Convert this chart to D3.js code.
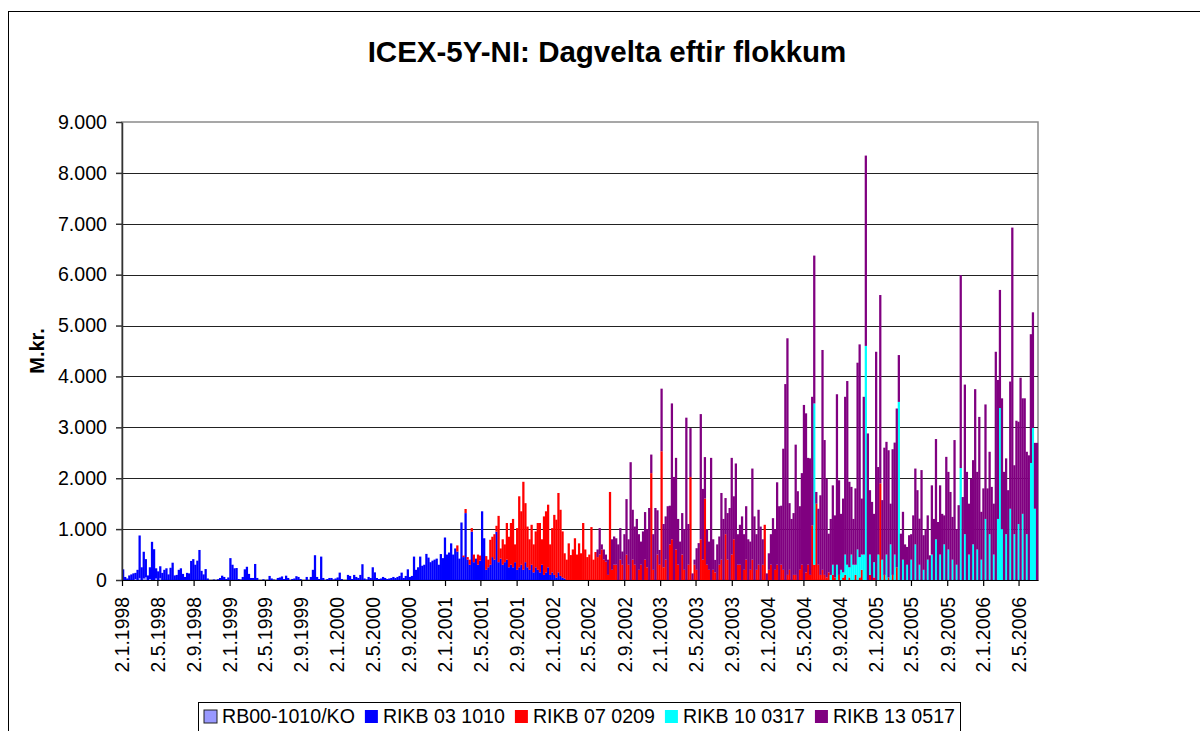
<!DOCTYPE html>
<html>
<head>
<meta charset="utf-8">
<script src="https://cdn.jsdelivr.net/npm/d3@7/dist/d3.min.js"></script>
<style>
body { margin: 0; background: #fff; }
svg text { font-family: "Liberation Sans", Arial, sans-serif; fill: #000; }
</style>
</head>
<body>
<script>
// vikuleg velta (M.kr.) lesin af myndinni, ein tala fyrir hverja viku frá 2.1.1998
var firstDay = "2.1.1998";
var weekCount = 444;

var seriesNames = ["RB00-1010/KO", "RIKB 03 1010", "RIKB 07 0209", "RIKB 10 0317", "RIKB 13 0517"];
var seriesColors = ["#9999ff", "#0000ff", "#ff0000", "#00ffff", "#800080"];

var rb00Start = 6;
var rb00 = [20, 0, 40, 0, 30, 50, 0, 20, 0, 0, 30, 0, 40];

var rikb03Start = 0;
var rikb03 = [
    210, 60, 30, 90, 110, 130, 120, 200, 835, 250,
    525, 360, 90, 230, 750, 605, 200, 170, 230, 140,
    200, 230, 110, 240, 340, 90, 100, 200, 230, 120,
    60, 140, 130, 375, 410, 300, 380, 590, 180, 110,
    215, 30, 0, 0, 10, 0, 15, 40, 85, 60,
    20, 50, 430, 300, 230, 235, 20, 10, 60, 210,
    260, 120, 40, 40, 315, 40, 0, 0, 15, 0,
    5, 80, 30, 10, 0, 40, 50, 70, 20, 85,
    40, 0, 20, 30, 75, 60, 20, 0, 0, 60,
    0, 60, 200, 487, 60, 20, 460, 40, 0, 20,
    40, 40, 10, 30, 50, 145, 20, 0, 0, 100,
    80, 20, 100, 60, 40, 100, 310, 30, 10, 60,
    40, 250, 150, 40, 20, 30, 60, 40, 20, 30,
    40, 60, 40, 60, 80, 145, 40, 80, 210, 60,
    80, 460, 200, 250, 460, 280, 300, 513, 440, 350,
    380, 400, 420, 300, 510, 430, 835, 500, 540, 720,
    500, 620, 560, 420, 1130, 450, 1315, 400, 300, 950,
    350, 420, 300, 380, 1350, 820, 200, 250, 300, 450,
    400, 950, 350, 420, 300, 350, 400, 250, 300, 250,
    350, 200, 250, 300, 200, 350, 250, 200, 300, 150,
    250, 200, 150, 300, 100, 150, 250, 100, 150, 100,
    50, 150, 80, 50, 30
];

var rikb07Start = 162;
var rikb07 = [
    120, 0, 0, 30, 80, 50, 100, 70,
    150, 0, 200, 100, 0, 0, 270, 150, 490, 400,
    500, 115, 910, 200, 500, 350, 720, 600, 820, 950,
    350, 820, 1395, 1050, 1730, 1160, 800, 600, 785, 550,
    705, 920, 970, 500, 1150, 1200, 1230, 600, 870, 1180,
    1135, 1560, 1300, 905, 495, 400, 720, 490, 600, 820,
    500, 720, 525, 1120, 600, 450, 500, 1040, 400, 550,
    450, 500, 600, 400, 360, 100, 1730, 200, 300, 300,
    0, 400, 300, 0, 500, 300, 0, 400, 300, 0,
    200, 300, 0, 400, 250, 0, 2100, 200, 0, 500,
    300, 2530, 250, 400, 0, 700, 800, 0, 600, 300,
    0, 500, 200, 0, 300, 2025, 0, 300, 200, 0,
    800, 400, 1600, 300, 200, 0, 200, 150, 0, 300,
    400, 0, 900, 400, 0, 500, 800, 0, 300, 300,
    0, 200, 400, 0, 200, 400, 0, 200, 300, 0,
    300, 1085, 0, 200, 300, 0, 200, 300, 0, 300,
    200, 0, 100, 200, 0, 100, 100, 0, 200, 300,
    0, 150, 300, 100, 1075, 300, 1500, 300, 100, 200,
    100, 50, 150, 0, 100, 50, 0, 100, 0, 50,
    100, 0, 50, 0, 0, 100, 0, 50, 200, 0,
    0, 0, 100, 0, 50, 0, 0, 1900, 0, 100,
    0, 50, 0, 100, 0, 250
];

var rikb10Start = 335;
var rikb10 = [
    3170,
    0, 0, 0, 0, 0, 0, 0, 100, 200, 0, 300, 0, 200, 100,
    400, 300, 200, 500, 300, 200, 600, 400, 300, 500,
    4600,
    0, 400, 0, 300, 0, 500, 0, 400, 0,
    500, 0, 700, 0, 500, 0, 3500, 0, 400, 0,
    300, 0, 400, 0, 700, 0, 300, 0, 200, 0,
    400, 0, 500, 0, 800, 0, 500, 0, 700, 0,
    600, 0, 400, 0, 300, 0, 2200, 0, 900, 0,
    500, 0, 700, 0, 600, 0, 400, 0, 1200, 0,
    900, 0, 500, 0, 1200, 3380, 1000, 0, 900, 0,
    1400, 0, 900, 0, 1100, 0, 1300, 0, 900, 0,
    2300, 2990, 1400, 0
];

var rikb13Start = 229;
var rikb13 = [
    0, 150, 520, 100, 200, 140, 300, 0, 600, 555,
    520, 700, 620, 260, 900, 1090, 500, 2315, 980, 750,
    1200, 700, 455, 955, 935, 750, 1415, 365, 700, 1415,
    870, 290, 1230, 850, 850, 1450, 760, 2670, 2025, 1800,
    900, 755, 815, 800, 3190, 800, 960, 130, 100, 425,
    725, 2460, 1390, 815, 700, 555, 2400, 600, 245, 700,
    555, 1310, 1200, 710, 915, 1415, 1900, 845, 2290, 600,
    785, 1250, 700, 1050, 800, 555, 1790, 1250, 700, 1080,
    1050, 500, 0, 130, 325, 600, 1215, 800, 1620, 1450,
    1160, 2380, 3850, 4650, 1310, 1200, 1215, 2560, 1745, 1250,
    1800, 3440, 3125, 2100, 2290, 2525, 2905, 230, 1100, 1565,
    4320, 2650, 1940, 760, 1100, 1560, 1220, 3350, 1860, 1100,
    1450, 3100, 3610, 1680, 1330, 900, 1500, 3670, 4180, 1100,
    3100, 3740, 2880, 1265, 1535, 950, 4485, 1720, 3700, 1170,
    2500, 2215, 2500, 800, 2470, 2200, 3120, 920, 910, 940,
    700, 350, 880, 500, 1270, 1490, 1765, 905, 2160, 680,
    1000, 870, 485, 1360, 1200, 1970, 1140, 1360, 1300, 570,
    2420, 1525, 1730, 840, 2750, 700, 1470, 3790, 1630, 2940,
    2125, 1000, 1990, 1655, 3750, 1525, 3205, 940, 1800, 2250,
    1800, 1620, 1830, 1000, 4485, 2730, 2320, 2570, 2125, 1490,
    1765, 2500, 6925, 1355, 3130, 2010, 3975, 2270, 3570, 1620,
    2450, 2530, 2270, 1295, 2695
];

var yTicks = [0, 1000, 2000, 3000, 4000, 5000, 6000, 7000, 8000, 9000];
var xTickLabels = [
    "2.1.1998", "2.5.1998", "2.9.1998", "2.1.1999", "2.5.1999", "2.9.1999",
    "2.1.2000", "2.5.2000", "2.9.2000", "2.1.2001", "2.5.2001", "2.9.2001",
    "2.1.2002", "2.5.2002", "2.9.2002", "2.1.2003", "2.5.2003", "2.9.2003",
    "2.1.2004", "2.5.2004", "2.9.2004", "2.1.2005", "2.5.2005", "2.9.2005",
    "2.1.2006", "2.5.2006"
];

d3.select(window).on('load', init);

function init() {

    var w = 1200;
    var h = 731;
    var left = 122, right = 1038, top = 122, bottom = 580;

    var parseDay = d3.timeParse("%d.%m.%Y");
    var startDate = parseDay(firstDay);
    var weekDate = function(i) { return d3.timeDay.offset(startDate, 7 * i); };

    // allar raðir settar í eina töflu fyrir d3.stack
    var starts = [rb00Start, rikb03Start, rikb07Start, rikb10Start, rikb13Start];
    var values = [rb00, rikb03, rikb07, rikb10, rikb13];
    var table = [];
    for (var i = 0; i < weekCount; i++) {
        var row = {week: i};
        seriesNames.forEach(function(name, k) {
            var v = values[k][i - starts[k]];
            row[name] = v === undefined ? 0 : v;
        });
        table.push(row);
    }
    var stacked = d3.stack().keys(seriesNames)(table);

    var svg = d3.select('body')
        .append('svg')
        .attr("width", w)
        .attr("height", h);

    // ytri rammi
    svg.append("rect")
        .attr("x", 8.5).attr("y", 11.5)
        .attr("width", 1200).attr("height", 760)
        .attr("fill", "none")
        .attr("stroke", "#000")
        .attr("stroke-width", 1);

    svg.append("text")
        .attr("x", 607)
        .attr("y", 61.5)
        .attr("text-anchor", "middle")
        .style("font-size", "29.5px")
        .style("font-weight", "bold")
        .text("ICEX-5Y-NI: Dagvelta eftir flokkum");

    var xScale = d3.scaleTime()
        .domain([startDate, weekDate(weekCount)])
        .range([left, right]);

    var yScale = d3.scaleLinear()
        .domain([0, 9000])
        .range([bottom, top]);

    var fmt = d3.formatLocale({decimal: ",", thousands: ".", grouping: [3], currency: ["", ""]}).format(",");

    // rammi teiknisvæðis
    svg.append("rect")
        .attr("x", left).attr("y", top)
        .attr("width", right - left).attr("height", bottom - top)
        .attr("fill", "#fff")
        .attr("stroke", "#8a8a8a")
        .attr("stroke-width", 1.5);

    // hnitalínur
    svg.append("g")
        .selectAll("line")
        .data(yTicks.filter(function(d){ return d > 0 && d < 9000; }))
        .enter()
        .append("line")
        .attr("x1", left).attr("x2", right)
        .attr("y1", function(d){ return Math.round(yScale(d)) + 0.5; })
        .attr("y2", function(d){ return Math.round(yScale(d)) + 0.5; })
        .attr("stroke", "#222")
        .attr("stroke-width", 1);

    // súlur
    svg.append("g")
        .selectAll("g")
        .data(stacked)
        .enter()
        .append("g")
        .attr("fill", function(d, i){ return seriesColors[i]; })
        .selectAll("rect")
        .data(function(d){ return d.filter(function(p){ return p[1] > p[0]; }); })
        .enter()
        .append("rect")
        .attr("x", function(d){ return xScale(weekDate(d.data.week)); })
        .attr("width", function(d){ return xScale(weekDate(d.data.week + 1)) - xScale(weekDate(d.data.week)) + 0.2; })
        .attr("y", function(d){ return yScale(d[1]); })
        .attr("height", function(d){ return yScale(d[0]) - yScale(d[1]); });

    var yAxis = d3.axisLeft()
        .scale(yScale)
        .tickValues(yTicks)
        .tickFormat(fmt)
        .tickSize(6)
        .tickSizeOuter(0)
        .tickPadding(9);

    var gy = svg.append("g")
        .attr("transform", "translate(" + left + ",0)")
        .call(yAxis);
    gy.selectAll("text").style("font-size", "19.6px");
    gy.selectAll("line,path").attr("stroke", "#333").attr("stroke-width", 1.5);

    var tickDates = xTickLabels.map(function(s){ return parseDay(s); });

    var xAxis = d3.axisBottom()
        .scale(xScale)
        .tickValues(tickDates)
        .tickFormat(function(d, i){ return xTickLabels[i]; })
        .tickSize(6)
        .tickSizeOuter(0);

    var gx = svg.append("g")
        .attr("transform", "translate(0," + bottom + ")")
        .call(xAxis);
    gx.selectAll("line,path").attr("stroke", "#000").attr("stroke-width", 1.2);
    gx.selectAll("text")
        .style("font-size", "19.4px")
        .attr("transform", "rotate(-90)")
        .attr("text-anchor", "end")
        .attr("x", -17)
        .attr("y", 0)
        .attr("dy", "0.35em");

    svg.append("text")
        .attr("transform", "translate(44," + ((top + bottom) / 2) + ") rotate(-90)")
        .attr("text-anchor", "middle")
        .style("font-size", "20px")
        .style("font-weight", "bold")
        .text("M.kr.");

    // skýringar
    svg.append("rect")
        .attr("x", 198.5).attr("y", 702.5)
        .attr("width", 762).attr("height", 40)
        .attr("fill", "#fff")
        .attr("stroke", "#000");

    var lx = 204;
    seriesNames.forEach(function(name, i) {
        svg.append("rect")
            .attr("x", lx).attr("y", 710)
            .attr("width", 13).attr("height", 13)
            .attr("fill", seriesColors[i])
            .attr("stroke", i === 0 ? "#222" : "none");
        var t = svg.append("text")
            .attr("x", lx + 18)
            .attr("y", 723)
            .style("font-size", "19.6px")
            .text(name);
        lx = lx + 18 + t.node().getComputedTextLength() + 10;
    });
}
</script>
</body>
</html>
